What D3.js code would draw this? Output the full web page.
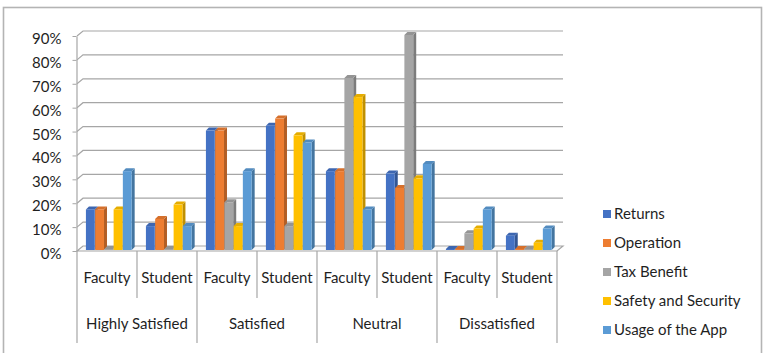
<!DOCTYPE html>
<html>
<head>
<meta charset="utf-8">
<script src="https://cdn.jsdelivr.net/npm/d3@7"></script>
<style>
  body { margin: 0; background: #fff; }
  text { font-family: Lato, "Open Sans", sans-serif; fill: #1f1f1f; }
</style>
</head>
<body>
<div id="chart"></div>
<script>
// satisfaction groups and respondent types (two-level category axis)
const groups = ['Highly Satisfied', 'Satisfied', 'Neutral', 'Dissatisfied'];
const respondents = ['Faculty', 'Student'];
const seriesNames = ['Returns', 'Operation', 'Tax Benefit', 'Safety and Security', 'Usage of the App'];
const seriesColors = ['#4472C4', '#ED7D31', '#A5A5A5', '#FFC000', '#5B9BD5'];

// percent values, order: HS Faculty, HS Student, Sat Faculty, Sat Student,
// Neu Faculty, Neu Student, Dis Faculty, Dis Student
const returns    = [17, 10, 50, 52, 33, 32, 0, 6];
const operation  = [17, 13, 50, 55, 33, 26, 0, 0];
const taxBenefit = [0, 0, 20, 10, 72, 90, 7, 0];
const safety     = [17, 19, 10, 48, 64, 30, 9, 3];
const usage      = [33, 10, 33, 45, 17, 36, 17, 9];

const yTicks = [0, 0.1, 0.2, 0.3, 0.4, 0.5, 0.6, 0.7, 0.8, 0.9];

const seriesValues = [returns, operation, taxBenefit, safety, usage];
const slots = [];
groups.forEach(g => respondents.forEach(r => slots.push(g + '|' + r)));

const width = 764;
const height = 353;
const fontSize = '15px';

// 3D offsets: front plane is shifted left/down from the back wall
const wallDx = -6, wallDy = 5;
const barDx = -4, barDy = 4, barDepth = 3;

const svg = d3.select('#chart')
  .append('svg')
  .attr('width', width)
  .attr('height', height);

// outer frame
svg.append('rect')
  .attr('x', 3.5).attr('y', 7.5)
  .attr('width', 758).attr('height', 380)
  .attr('fill', 'none')
  .attr('stroke', '#b4b4b4')
  .attr('stroke-width', 1.6);

const yBack = d3.scaleLinear().domain([0, 0.9]).range([246, 31]);
const yFront = d3.scaleLinear().domain([0, 0.9]).range([246 + wallDy, 31 + wallDy]);

const xBack = d3.scaleBand().domain(slots).range([83, 563]);
const xInner = d3.scaleBand().domain(seriesNames)
  .range([0, xBack.bandwidth()])
  .paddingInner(0)
  .paddingOuter(0.75);

const x0 = xBack.range()[0], x1 = xBack.range()[1];

// floor
svg.append('path')
  .attr('d', `M${x0 + wallDx},${yFront(0)} L${x1 + wallDx},${yFront(0)} L${x1},${yBack(0)} L${x0},${yBack(0)} Z`)
  .attr('fill', '#fafafa')
  .attr('stroke', '#a6a6a6')
  .attr('stroke-width', 1.2);

// gridlines on side wall + back wall
svg.append('g')
  .selectAll('path')
  .data(yTicks.filter(t => t > 0))
  .enter()
  .append('path')
  .attr('d', t => `M${x0 + wallDx},${yFront(t)} L${x0},${yBack(t)} L${x1},${yBack(t)}`)
  .attr('fill', 'none')
  .attr('stroke', '#a6a6a6')
  .attr('stroke-width', 1.2);

// Y axis
const yAxis = svg.append('g')
  .attr('transform', `translate(${x0 + wallDx - 0.5},0)`)
  .call(d3.axisLeft(yFront)
    .tickValues(yTicks)
    .tickFormat(d3.format('.0%'))
    .tickSize(4)
    .tickSizeOuter(0)
    .tickPadding(11));
yAxis.select('.domain').attr('stroke', '#a6a6a6').attr('stroke-width', 1.2);
yAxis.selectAll('.tick line').attr('stroke', '#a6a6a6');
yAxis.selectAll('.tick text')
  .attr('dy', '0.5em')
  .style('font-family', 'Lato, sans-serif')
  .style('font-size', fontSize)
  .attr('fill', '#1f1f1f');

// bars, drawn left to right so each front face covers the previous side face
const bars = [];
slots.forEach((s, i) => {
  seriesNames.forEach((name, k) => {
    bars.push({ slot: s, series: name, color: seriesColors[k], value: seriesValues[k][i] / 100 });
  });
});

const bw = xInner.bandwidth() - 0.4;
const barG = svg.append('g');
bars.forEach(d => {
  const fx = xBack(d.slot) + xInner(d.series) + barDx;
  const top = Math.min(yBack(d.value), yBack(0) - 1) + barDy;
  const bottom = yBack(0) + barDy;
  const c = d3.color(d.color);
  const g = barG.append('g');
  // side face
  g.append('path')
    .attr('d', `M${fx + bw},${bottom} L${fx + bw + barDepth},${bottom - barDepth} L${fx + bw + barDepth},${top - barDepth} L${fx + bw},${top} Z`)
    .attr('fill', c.darker(0.8));
  // top face
  g.append('path')
    .attr('d', `M${fx},${top} L${fx + barDepth},${top - barDepth} L${fx + bw + barDepth},${top - barDepth} L${fx + bw},${top} Z`)
    .attr('fill', c.darker(0.3));
  // front face
  g.append('rect')
    .attr('x', fx)
    .attr('y', top)
    .attr('width', bw)
    .attr('height', bottom - top)
    .attr('fill', d.color);
});

// category axis (two levels)
const xFront = s => xBack(s) + wallDx;
const axisTop = yFront(0);
const catG = svg.append('g');

const boundaries = d3.range(slots.length + 1);
catG.selectAll('line')
  .data(boundaries)
  .enter()
  .append('line')
  .attr('x1', i => x0 + wallDx + i * xBack.step())
  .attr('x2', i => x0 + wallDx + i * xBack.step())
  .attr('y1', axisTop)
  .attr('y2', i => (i % 2 === 0 ? 343 : 298))
  .attr('stroke', '#a6a6a6')
  .attr('stroke-width', 1.2);

catG.selectAll('.sub')
  .data(slots)
  .enter()
  .append('text')
  .attr('class', 'sub')
  .attr('x', s => xFront(s) + xBack.bandwidth() / 2)
  .attr('y', 278)
  .attr('dy', '0.35em')
  .attr('text-anchor', 'middle')
  .style('font-size', fontSize)
  .text(s => s.split('|')[1]);

catG.selectAll('.grp')
  .data(groups)
  .enter()
  .append('text')
  .attr('class', 'grp')
  .attr('x', g => xFront(g + '|' + respondents[0]) + xBack.bandwidth())
  .attr('y', 324)
  .attr('dy', '0.35em')
  .attr('text-anchor', 'middle')
  .style('font-size', fontSize)
  .text(g => g);

// legend
const legend = svg.selectAll('.legend')
  .data(seriesNames)
  .enter()
  .append('g')
  .attr('class', 'legend')
  .attr('transform', (_, i) => `translate(603, ${214 + i * 29})`);

legend.append('rect')
  .attr('x', 0)
  .attr('y', -4)
  .attr('width', 8)
  .attr('height', 8)
  .attr('fill', (_, i) => seriesColors[i]);

legend.append('text')
  .attr('x', 11)
  .attr('y', 0)
  .attr('dy', '0.35em')
  .style('font-size', fontSize)
  .text(d => d);
</script>
</body>
</html>
